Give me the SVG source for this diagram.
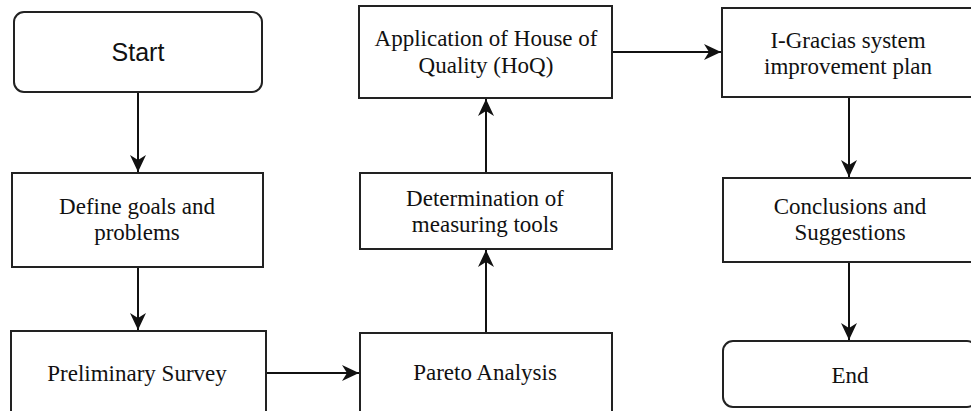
<svg xmlns="http://www.w3.org/2000/svg" width="971" height="411" viewBox="0 0 971 411">
<defs>
<marker id="arr" markerUnits="userSpaceOnUse" markerWidth="18" markerHeight="18" viewBox="0 0 18 18" refX="17" refY="9" orient="auto">
<path d="M0,1 L17,9 L0,17 L5,9 z" fill="#111"/>
</marker>
<style>
.box{fill:#fff;stroke:#222;stroke-width:2}
.t{font-family:"Liberation Serif","Times New Roman",serif;font-size:23px;fill:#111;text-anchor:middle}
.s{font-family:"Liberation Sans",Arial,sans-serif;font-size:25px;fill:#111;text-anchor:middle}
.c{fill:none;stroke:#111;stroke-width:2;marker-end:url(#arr)}
</style>
</defs>
<rect width="971" height="411" fill="#fff"/>
<g id="connectors">
<path class="c" d="M138,92 L138,172"/>
<path class="c" d="M138,267 L138,330"/>
<path class="c" d="M266,373 L359,373"/>
<path class="c" d="M486,333 L486,250"/>
<path class="c" d="M486,173 L486,99"/>
<path class="c" d="M612,52 L721,52"/>
<path class="c" d="M849,97 L849,177"/>
<path class="c" d="M849,262 L849,340"/>
</g>
<g id="start"><rect class="box" x="14" y="12" width="248" height="80" rx="10"/><text class="s" x="138" y="61">Start</text></g>
<g id="define"><rect class="box" x="12" y="173" width="251" height="94"/><text class="t" x="137" y="214">Define goals and</text><text class="t" x="137" y="240">problems</text></g>
<g id="preliminary"><rect class="box" x="11" y="331" width="255" height="100"/><text class="t" x="137" y="381">Preliminary Survey</text></g>
<g id="pareto"><rect class="box" x="360" y="333" width="252" height="100"/><text class="t" x="485" y="380">Pareto Analysis</text></g>
<g id="determination"><rect class="box" x="360" y="173" width="252" height="76"/><text class="t" x="485" y="206">Determination of</text><text class="t" x="485" y="232">measuring tools</text></g>
<g id="hoq"><rect class="box" x="359" y="6" width="253" height="92"/><text class="t" x="486" y="46">Application of House of</text><text class="t" x="486" y="73">Quality (HoQ)</text></g>
<g id="igracias"><rect class="box" x="722" y="8" width="254" height="89"/><text class="t" x="848" y="48">I-Gracias system</text><text class="t" x="848" y="74">improvement plan</text></g>
<g id="conclusions"><rect class="box" x="723" y="178" width="254" height="84"/><text class="t" x="850" y="214">Conclusions and</text><text class="t" x="850" y="240">Suggestions</text></g>
<g id="end"><rect class="box" x="723" y="341" width="254" height="66" rx="10"/><text class="t" x="850" y="383">End</text></g>
</svg>
